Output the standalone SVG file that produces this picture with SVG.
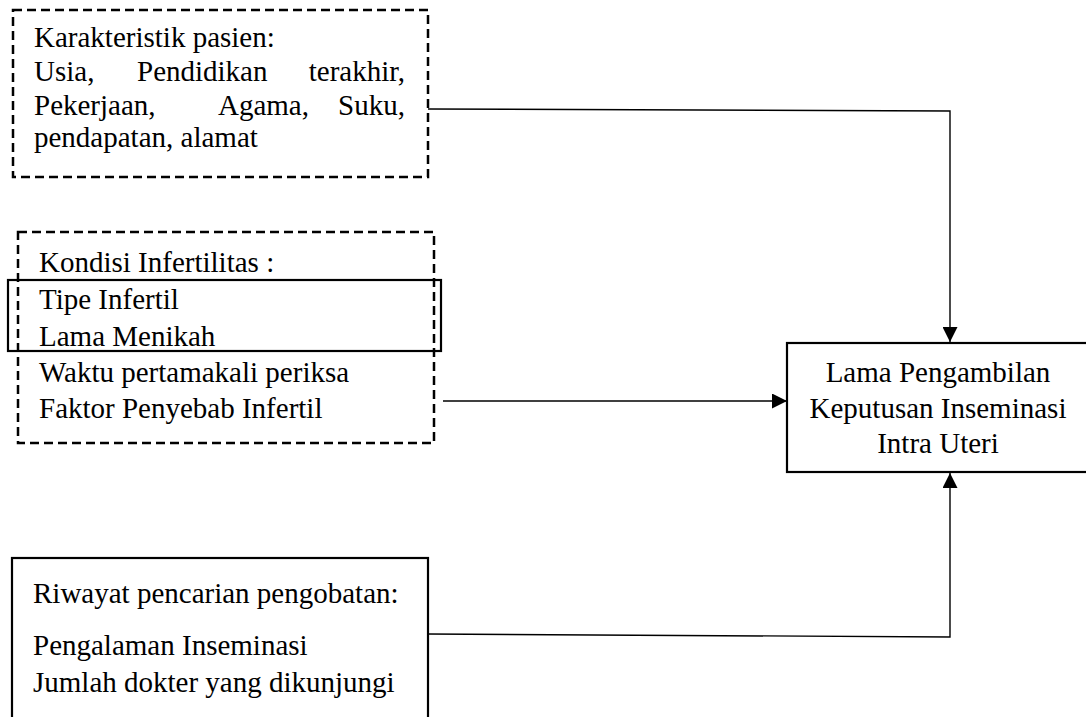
<svg xmlns="http://www.w3.org/2000/svg" width="1086" height="717" viewBox="0 0 1086 717">
<style>
text{font-family:'Liberation Serif','DejaVu Serif',serif;font-size:29px;fill:#000}
.dash{fill:none;stroke:#000;stroke-width:2.5;stroke-dasharray:9 5}
.solid{fill:none;stroke:#000;stroke-width:2.2}
.conn{fill:none;stroke:#000;stroke-width:1.4}
</style>
<defs>
<marker id="arr" viewBox="0 0 10 10" refX="10" refY="5" markerWidth="15" markerHeight="15" markerUnits="userSpaceOnUse" orient="auto">
<path d="M0,0 L10,5 L0,10 z" fill="#000"/>
</marker>
</defs>
<rect width="1086" height="717" fill="#fff"/>
<g id="connectors">
<polyline class="conn" points="428,109 950,111 950,342" marker-end="url(#arr)"/>
<line class="conn" x1="443" y1="401" x2="787" y2="401" marker-end="url(#arr)"/>
<polyline class="conn" points="428,634 950,637 950,473" marker-end="url(#arr)"/>
</g>
<g id="node-karakteristik">
<rect class="dash" x="13" y="10" width="415" height="167"/>
<text x="34" y="47">Karakteristik pasien:</text>
<text x="34" y="81">Usia,</text>
<text x="137" y="81">Pendidikan</text>
<text x="405" y="81" text-anchor="end">terakhir,</text>
<text x="34" y="115">Pekerjaan,</text>
<text x="218" y="115">Agama,</text>
<text x="405" y="115" text-anchor="end">Suku,</text>
<text x="34" y="147">pendapatan, alamat</text>
</g>
<g id="node-kondisi">
<rect class="dash" x="18" y="232" width="416" height="211"/>
<rect class="solid" x="8" y="280" width="433" height="71"/>
<text x="39" y="272">Kondisi Infertilitas :</text>
<text x="39" y="309">Tipe Infertil</text>
<text x="39" y="346">Lama Menikah</text>
<text x="39" y="382">Waktu pertamakali periksa</text>
<text x="39" y="418">Faktor Penyebab Infertil</text>
</g>
<g id="node-riwayat">
<rect class="solid" x="12" y="558" width="416" height="180"/>
<text x="33" y="603">Riwayat pencarian pengobatan:</text>
<text x="33" y="655">Pengalaman Inseminasi</text>
<text x="33" y="692">Jumlah dokter yang dikunjungi</text>
</g>
<g id="node-lama">
<rect class="solid" x="787" y="343" width="303" height="129"/>
<text x="938" y="382" text-anchor="middle">Lama Pengambilan</text>
<text x="938" y="418" text-anchor="middle">Keputusan Inseminasi</text>
<text x="938" y="453" text-anchor="middle">Intra Uteri</text>
</g>
</svg>
